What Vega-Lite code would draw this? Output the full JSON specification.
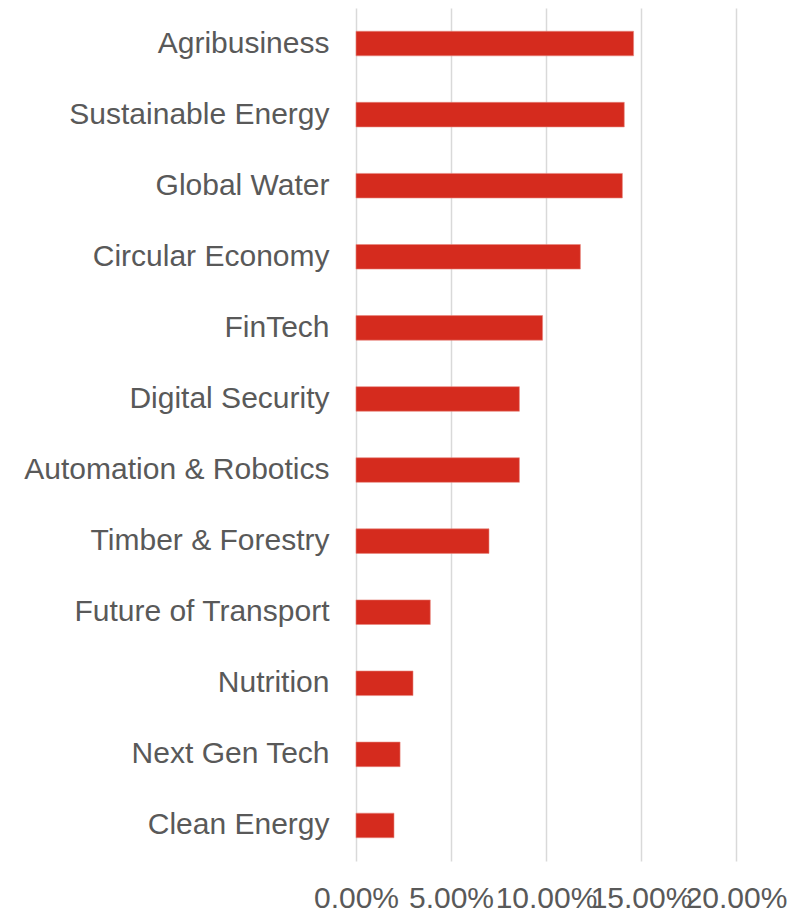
{
  "$schema": "https://vega.github.io/schema/vega-lite/v6.json",
  "autosize": "none",
  "width": 380,
  "height": 853,
  "padding": {"left": 356, "top": 8, "right": 55, "bottom": 49},
  "background": "white",
  "config": {
    "view": {"stroke": null},
    "font": "Liberation Sans"
  },
  "data": {
    "values": [
      {"theme": "Agribusiness", "value": 0.1461},
      {"theme": "Sustainable Energy", "value": 0.1412},
      {"theme": "Global Water", "value": 0.1402},
      {"theme": "Circular Economy", "value": 0.1181},
      {"theme": "FinTech", "value": 0.0982},
      {"theme": "Digital Security", "value": 0.0860},
      {"theme": "Automation & Robotics", "value": 0.0860},
      {"theme": "Timber & Forestry", "value": 0.0700},
      {"theme": "Future of Transport", "value": 0.0391},
      {"theme": "Nutrition", "value": 0.0300},
      {"theme": "Next Gen Tech", "value": 0.0232},
      {"theme": "Clean Energy", "value": 0.0200}
    ]
  },
  "mark": {"type": "bar", "color": "#D52B1E", "stroke": "#E8867E", "strokeWidth": 0.6},
  "encoding": {
    "y": {
      "field": "theme",
      "type": "nominal",
      "sort": null,
      "scale": {"paddingInner": 0.654, "paddingOuter": 0.327},
      "axis": {
        "title": null,
        "ticks": false,
        "domain": false,
        "labelFontSize": 30,
        "labelColor": "#595959",
        "labelPadding": 27,
        "labelLimit": 400
      }
    },
    "x": {
      "field": "value",
      "type": "quantitative",
      "scale": {"domain": [0, 0.2], "nice": false},
      "axis": {
        "title": null,
        "values": [0, 0.05, 0.1, 0.15, 0.2],
        "format": ".2%",
        "ticks": false,
        "domain": false,
        "grid": true,
        "gridColor": "#D9D9D9",
        "gridWidth": 1.5,
        "labelFontSize": 30,
        "labelColor": "#595959",
        "labelPadding": 22,
        "labelFlush": false,
        "labelOverlap": false
      }
    }
  }
}
